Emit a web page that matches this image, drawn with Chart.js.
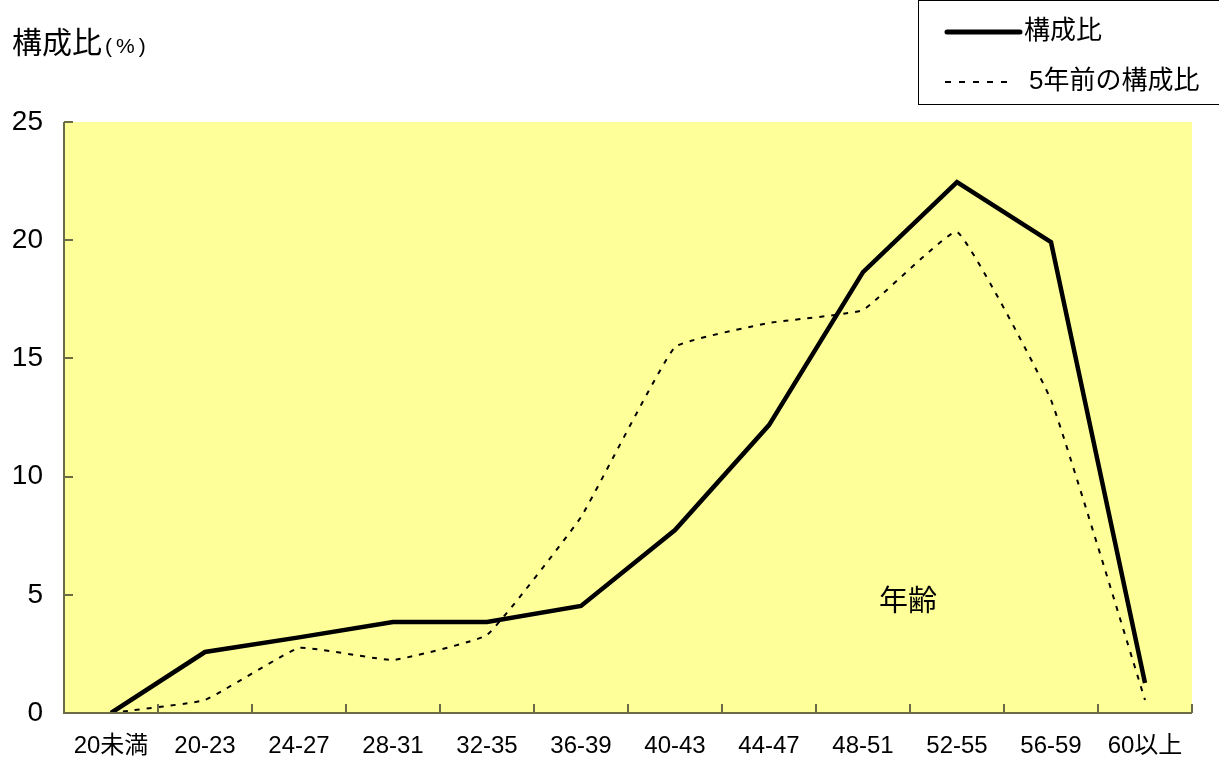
<!DOCTYPE html>
<html><head><meta charset="utf-8">
<script src="https://cdn.jsdelivr.net/npm/chart.js@4/dist/chart.umd.min.js"></script>
<style>html,body{margin:0;padding:0;background:#fff;}#wrap{width:1219px;height:758px;position:relative;}</style>
</head><body><div id="wrap"><canvas id="c" width="1219" height="758"></canvas></div>
<script>
const categories = ['20未満','20-23','24-27','28-31','32-35','36-39','40-43','44-47','48-51','52-55','56-59','60以上'];
const current = [0, 2.58, 3.2, 3.85, 3.85, 4.53, 7.74, 12.18, 18.65, 22.46, 19.92, 1.27];
const fiveYearsAgo = [0, 0.55, 2.75, 2.24, 3.3, 8.29, 15.48, 16.5, 17.05, 20.35, 13.24, 0.55];
const yTicks = [0, 5, 10, 15, 20, 25];
const seriesNames = ['構成比', '5年前の構成比'];
const yTitle = '構成比';
const yUnit = '(%)';
const xTitle = '年齢';

const FONT = '"Liberation Sans", "Noto Sans CJK JP", sans-serif';
const AXIS = '#6b6b45';

const deco = {
  id: 'deco',
  beforeDraw(chart) {
    const {ctx, chartArea: a} = chart;
    ctx.save();
    ctx.fillStyle = '#FFFF99';
    ctx.fillRect(a.left, a.top, a.right - a.left, a.bottom - a.top);
    ctx.restore();
  },
  afterDraw(chart) {
    const {ctx, chartArea: a, scales} = chart;
    const x = scales.x, y = scales.y;
    ctx.save();
    ctx.strokeStyle = AXIS; ctx.lineWidth = 2;
    ctx.beginPath(); ctx.moveTo(a.left, a.top); ctx.lineTo(a.left, a.bottom); ctx.lineTo(a.right, a.bottom); ctx.stroke();
    yTicks.forEach(v => { const py = Math.round(y.getPixelForValue(v)); ctx.beginPath(); ctx.moveTo(a.left, py); ctx.lineTo(a.left + 9, py); ctx.stroke(); });
    const step = x.getPixelForValue(1) - x.getPixelForValue(0);
    for (let i = 0; i <= categories.length; i++) {
      const px = Math.round(x.getPixelForValue(0) - step / 2 + i * step);
      ctx.beginPath(); ctx.moveTo(px, a.bottom); ctx.lineTo(px, a.bottom - 9); ctx.stroke();
    }
    ctx.fillStyle = '#000'; ctx.textBaseline = 'middle'; ctx.textAlign = 'left';
    ctx.font = '30px ' + FONT;
    ctx.fillText(yTitle, 12, 45);
    const w = ctx.measureText(yTitle).width;
    ctx.font = '21px ' + FONT;
    ctx.letterSpacing = '4px';
    ctx.fillText(yUnit, 12 + w + 3, 47);
    ctx.letterSpacing = '0px';
    ctx.font = '29px ' + FONT;
    ctx.fillText(xTitle, 879, 603);
    ctx.strokeStyle = '#000'; ctx.lineWidth = 1;
    ctx.strokeRect(918.5, 0.5, 320, 104);
    ctx.lineWidth = 5; ctx.lineCap = 'round';
    ctx.beginPath(); ctx.moveTo(947, 32); ctx.lineTo(1020, 32); ctx.stroke();
    ctx.lineCap = 'butt'; ctx.lineWidth = 2; ctx.setLineDash([6, 8]);
    ctx.beginPath(); ctx.moveTo(945, 82); ctx.lineTo(1012, 82); ctx.stroke();
    ctx.setLineDash([]);
    ctx.font = '26px ' + FONT;
    ctx.fillText(seriesNames[0], 1024, 32);
    ctx.fillText(seriesNames[1], 1029, 82);
    ctx.restore();
  }
};

new Chart(document.getElementById('c'), {
  type: 'line',
  data: {
    labels: categories,
    datasets: [
      { label: seriesNames[1], data: fiveYearsAgo, borderColor: '#000', borderWidth: 2, borderDash: [5, 7], pointRadius: 0, tension: 0.1, fill: false },
      { label: seriesNames[0], data: current, borderColor: '#000', borderWidth: 4.5, pointRadius: 0, tension: 0, fill: false, borderJoinStyle: 'miter' }
    ]
  },
  options: {
    responsive: false, animation: false,
    layout: { padding: { top: 122, right: 27, left: 0, bottom: 0 } },
    plugins: { legend: { display: false }, tooltip: { enabled: false } },
    scales: {
      x: {
        offset: true,
        grid: { display: false, drawTicks: false },
        border: { display: false },
        ticks: { color: '#000', font: { family: FONT, size: 24 }, padding: 19, maxRotation: 0, autoSkip: false },
        afterFit(s) { s.height = 45; }
      },
      y: {
        min: 0, max: 25,
        afterBuildTicks(s) { s.ticks = yTicks.map(v => ({ value: v })); },
        grid: { display: false, drawTicks: false },
        border: { display: false },
        ticks: { color: '#000', font: { family: FONT, size: 28 }, padding: 21 },
        afterFit(s) { s.width = 64; }
      }
    }
  },
  plugins: [deco]
});
</script></body></html>
